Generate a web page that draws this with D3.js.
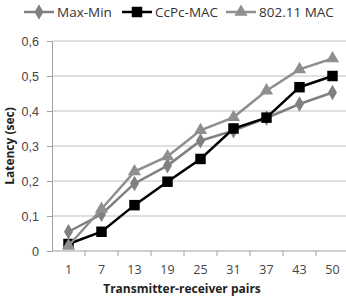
<!DOCTYPE html>
<html>
<head>
<meta charset="utf-8">
<script src="https://cdn.jsdelivr.net/npm/d3@7"></script>
<style>
  body { margin: 0; background: #fff; }
  svg { font-family: "Open Sans", sans-serif; }
</style>
</head>
<body>
<svg id="drawing_region"></svg>
<script>
const pairs = ["1", "7", "13", "19", "25", "31", "37", "43", "50"];
const maxMin = [0.055, 0.105, 0.193, 0.244, 0.315, 0.344, 0.38, 0.42, 0.453];
const ccpcMac = [0.02, 0.055, 0.131, 0.198, 0.263, 0.35, 0.381, 0.468, 0.50];
const mac80211 = [0.015, 0.12, 0.227, 0.27, 0.345, 0.382, 0.458, 0.519, 0.55];
const yTicks = [0, 0.1, 0.2, 0.3, 0.4, 0.5, 0.6];

const series = [
    { name: "Max-Min", values: maxMin, color: "#808080", shape: d3.symbolDiamond, size: 70 },
    { name: "CcPc-MAC", values: ccpcMac, color: "#000000", shape: d3.symbolSquare, size: 110 },
    { name: "802.11 MAC", values: mac80211, color: "#8f8f8f", shape: d3.symbolTriangle, size: 75 }
];

const config = {
    width: 346,
    height: 298,
    margin: { top: 41, right: -3, bottom: 47, left: 52 }
};

const svg = d3.select('#drawing_region')
    .attr('width', config.width)
    .attr('height', config.height);

const inner_width = config.width - config.margin.left - config.margin.right;
const inner_height = config.height - config.margin.top - config.margin.bottom;

const chart = svg.append('g')
    .attr('transform', `translate(${config.margin.left}, ${config.margin.top})`);

const xscale = d3.scaleBand()
    .domain(pairs)
    .range([0, inner_width]);

const yscale = d3.scaleLinear()
    .domain([0, 0.6])
    .range([inner_height, 0]);

// gridlines
chart.selectAll('.grid').data(yTicks.slice(1)).enter()
    .append('line')
    .attr('x1', 0)
    .attr('x2', inner_width)
    .attr('y1', d => yscale(d))
    .attr('y2', d => yscale(d))
    .attr('stroke', '#c0c0c0')
    .attr('stroke-width', 1);

// y axis
const yaxis = d3.axisLeft(yscale)
    .tickValues(yTicks)
    .tickFormat(d => d3.format('.1f')(d).replace('.', ','))
    .tickSize(5)
    .tickPadding(8)
    .tickSizeOuter(0);

const yg = chart.append('g').call(yaxis);
yg.select('.domain').attr('stroke', '#a0a0a0');
yg.selectAll('.tick line').attr('stroke', '#a0a0a0');
yg.selectAll('.tick text').attr('font-size', '12.5px').attr('fill', '#444');
yg.selectAll('.tick').filter(d => d === 0).select('text').text('0');

// x axis with ticks between categories
const xg = chart.append('g').attr('transform', `translate(0, ${inner_height})`);
xg.append('line')
    .attr('x1', 0).attr('x2', inner_width)
    .attr('stroke', '#a0a0a0');
xg.selectAll('.xtick').data(pairs).enter()
    .append('line')
    .attr('x1', d => xscale(d) + xscale.bandwidth())
    .attr('x2', d => xscale(d) + xscale.bandwidth())
    .attr('y1', 0).attr('y2', 5)
    .attr('stroke', '#a0a0a0');
xg.selectAll('.xlabel').data(pairs).enter()
    .append('text')
    .attr('x', d => xscale(d) + xscale.bandwidth() / 2)
    .attr('y', 23)
    .attr('text-anchor', 'middle')
    .attr('font-size', '12.5px')
    .attr('fill', '#444')
    .text(d => d);

// lines and markers
const xc = (d, i) => xscale(pairs[i]) + xscale.bandwidth() / 2;
const line = d3.line().x(xc).y(d => yscale(d));

series.forEach(s => {
    chart.append('path')
        .datum(s.values)
        .attr('d', line)
        .attr('fill', 'none')
        .attr('stroke', s.color)
        .attr('stroke-width', 2.5);
    chart.selectAll(null).data(s.values).enter()
        .append('path')
        .attr('d', d3.symbol().type(s.shape).size(s.size))
        .attr('transform', (d, i) => `translate(${xc(d, i)}, ${yscale(d)})`)
        .attr('fill', s.color);
});

// axis titles
svg.append('text')
    .attr('x', 182)
    .attr('y', 293)
    .attr('text-anchor', 'middle')
    .attr('font-size', '12px')
    .attr('font-weight', 'bold')
    .attr('fill', '#222')
    .text('Transmitter-receiver pairs');

svg.append('text')
    .attr('transform', 'translate(14, 146) rotate(-90)')
    .attr('text-anchor', 'middle')
    .attr('font-size', '12px')
    .attr('font-weight', 'bold')
    .attr('fill', '#222')
    .text('Latency (sec)');

// legend
const legendX = [24, 122, 226];
const legend = svg.selectAll('.legend').data(series).enter()
    .append('g')
    .attr('transform', (d, i) => `translate(${legendX[i]}, 12)`);
legend.append('line')
    .attr('x1', 0).attr('x2', 30)
    .attr('stroke', d => d.color)
    .attr('stroke-width', 2.5);
legend.append('path')
    .attr('d', d => d3.symbol().type(d.shape).size(d.size)())
    .attr('transform', 'translate(15, 0)')
    .attr('fill', d => d.color);
legend.append('text')
    .attr('x', 33)
    .attr('y', 5)
    .attr('font-size', '13.5px')
    .attr('fill', '#333')
    .text(d => d.name);
</script>
</body>
</html>
